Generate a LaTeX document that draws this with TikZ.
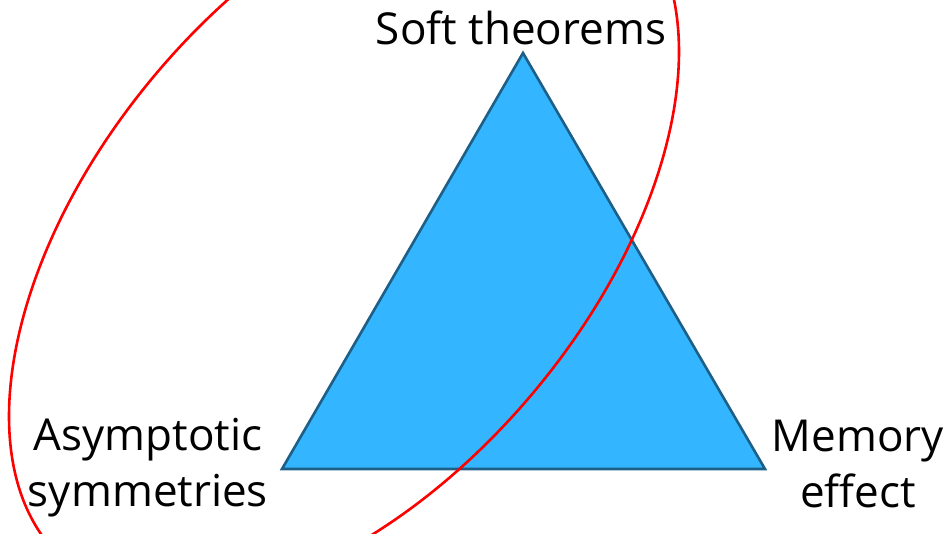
\documentclass[tikz,border=0pt]{standalone}
\usepackage{fontspec}
\setmainfont{Open Sans}
\definecolor{trifill}{RGB}{51,181,255}
\definecolor{triedge}{RGB}{30,95,135}

\begin{document}
\begin{tikzpicture}[x=1pt,y=1pt,
  corner/.style={font=\fontsize{44}{56}\selectfont,align=center,inner sep=0pt},
  tri/.style={draw=triedge,fill=trifill,line width=2.6pt},
  ring/.style={draw=red,line width=2.6pt}
]
\useasboundingbox (0,0) rectangle (946,534);
\coordinate (top)   at (523,481);
\coordinate (left)  at (282,65);
\coordinate (right) at (765,65);
\path[tri] (top) -- (left) -- (right) -- cycle;

\node[corner,anchor=base] (soft) at (521,489) {Soft theorems};
\node[corner,anchor=base] (asym) at (148,27) {Asymptotic\\symmetries};
\node[corner,anchor=base] (mem)  at (858,26) {Memory\\effect};

\begin{scope}
\clip (0,0) rectangle (946,534);
\draw[ring,rotate around={50:(344,300)}] (344,300) ellipse[x radius=430,y radius=247];
\end{scope}
\end{tikzpicture}
\end{document}
